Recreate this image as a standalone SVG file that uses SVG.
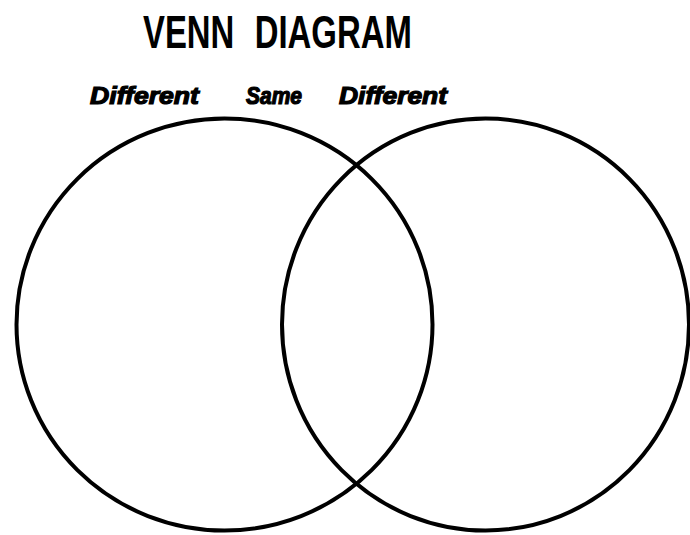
<svg xmlns="http://www.w3.org/2000/svg" width="690" height="535" viewBox="0 0 690 535">
<style>
.title{font-family:"Liberation Sans",Arial,sans-serif;font-weight:bold;font-size:47px;fill:#000;word-spacing:16px}
.lbl{font-family:"Liberation Sans",Arial,sans-serif;font-weight:900;font-style:italic;font-size:23px;fill:#000;stroke:#000;stroke-width:1.2px}
.set{fill:none;stroke:#000;stroke-width:4}
</style>
<rect width="690" height="535" fill="#fff"/>
<g id="title">
<text class="title" transform="translate(143,47.5) scale(0.7,1)" x="0" y="0">VENN DIAGRAM</text>
</g>
<g id="left-set">
<ellipse class="set" cx="224.5" cy="324.5" rx="208" ry="206"/>
<text class="lbl" x="90" y="104" textLength="109" lengthAdjust="spacingAndGlyphs">Different</text>
</g>
<g id="right-set">
<ellipse class="set" cx="485.5" cy="324.5" rx="203.5" ry="206"/>
<text class="lbl" x="339" y="104" textLength="108" lengthAdjust="spacingAndGlyphs">Different</text>
</g>
<g id="overlap">
<text class="lbl" x="246" y="104" textLength="56" lengthAdjust="spacingAndGlyphs">Same</text>
</g>
</svg>
